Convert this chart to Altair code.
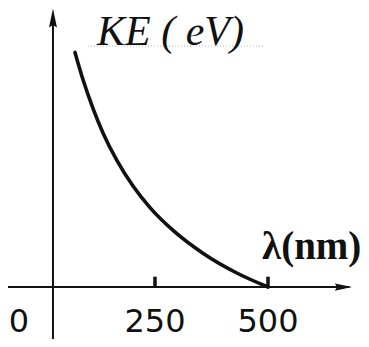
import altair as alt
import pandas as pd

# curve (wavelength in nm, KE in arbitrary eV units)
wavelength = [73, 91, 113, 135, 166, 201, 239, 290, 356, 431, 500]
ke = [10.2, 9.0, 7.76, 6.7, 5.49, 4.4, 3.45, 2.46, 1.47, 0.61, 0]

tick_values = [250, 500]
tick_label_pos = [-51, 250, 500]
tick_label_text = ["0", "250", "500"]

W, H = 353, 331
XDOM = [-75.2, 705.8]
YDOM = [-2.26, 12.13]
Y_AXIS_AT = 24.3

xs = alt.Scale(domain=XDOM, nice=False, zero=False)
ys = alt.Scale(domain=YDOM, nice=False, zero=False)

def X(field="x"):
    return alt.X(f"{field}:Q", scale=xs, axis=None)

def Y(field="y"):
    return alt.Y(f"{field}:Q", scale=ys, axis=None)

curve_df = pd.DataFrame({"x": wavelength, "y": ke})
curve = alt.Chart(curve_df).mark_line(
    color="#111", strokeWidth=3.6, interpolate="monotone", strokeCap="round"
).encode(x=X(), y=Y())

# x axis line
xaxis_df = pd.DataFrame({"x": [XDOM[0]], "x2": [680], "y": [0]})
xaxis = alt.Chart(xaxis_df).mark_rule(color="#111", strokeWidth=2).encode(
    x=X(), x2="x2:Q", y=Y()
)
# y axis line
yaxis_df = pd.DataFrame({"x": [Y_AXIS_AT], "y": [YDOM[0]], "y2": [11.6]})
yaxis = alt.Chart(yaxis_df).mark_rule(color="#111", strokeWidth=2).encode(
    x=X(), y=Y(), y2="y2:Q"
)

arrow_up = "M0,-1 L0.42,1 L0,0.75 L-0.42,1 Z"
arrow_right = "M1,0 L-1,0.42 L-0.75,0 L-1,-0.42 Z"

yarrow = alt.Chart(pd.DataFrame({"x": [Y_AXIS_AT], "y": [11.7]})).mark_point(
    shape=arrow_up, filled=True, color="#111", size=360, opacity=1
).encode(x=X(), y=Y())
xarrow = alt.Chart(pd.DataFrame({"x": [667], "y": [0]})).mark_point(
    shape=arrow_right, filled=True, color="#111", size=300, opacity=1
).encode(x=X(), y=Y())

ticks_df = pd.DataFrame({"x": tick_values, "y": [0, 0], "y2": [0.45, 0.45]})
ticks = alt.Chart(ticks_df).mark_rule(color="#111", strokeWidth=3.5).encode(
    x=X(), y=Y(), y2="y2:Q"
)

labels_df = pd.DataFrame({"x": tick_label_pos, "y": [0] * 3, "t": tick_label_text})
labels = alt.Chart(labels_df).mark_text(
    font="DejaVu Sans", fontSize=32, color="#111", baseline="middle", align="center", dy=35
).encode(x=X(), y=Y(), text="t:N")

ke_title = alt.Chart(pd.DataFrame({"t": ["KE ( eV)"]})).mark_text(
    font="Liberation Serif", fontStyle="italic", fontSize=42, color="#111",
    align="left", baseline="alphabetic"
).encode(x=alt.value(89), y=alt.value(37), text="t:N")

dots = alt.Chart(pd.DataFrame({"a": [0]})).mark_rule(
    color="#bbb", strokeWidth=1, strokeDash=[1, 2]
).encode(x=alt.value(80), x2=alt.value(257), y=alt.value(38))

lam_title = alt.Chart(pd.DataFrame({"t": ["λ(nm)"]})).mark_text(
    font="Liberation Serif", fontWeight="bold", fontSize=39, color="#111",
    align="left", baseline="alphabetic"
).encode(x=alt.value(254), y=alt.value(251), text="t:N")

chart = alt.layer(
    dots, xaxis, yaxis, ticks, curve, yarrow, xarrow, labels, ke_title, lam_title
).properties(
    width=W, height=H, autosize=alt.AutoSizeParams(type="none"), padding=0,
    background="white"
).configure_view(stroke=None)

chart.save("out.html", embed_options={"renderer": "svg", "actions": False})
